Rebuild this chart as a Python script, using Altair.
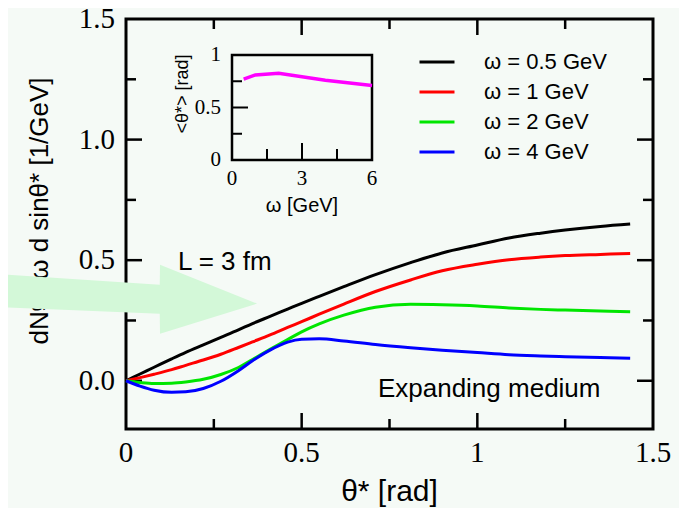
import altair as alt
import pandas as pd

# ---------------- data ----------------
theta = [0, 0.04, 0.08, 0.13, 0.17, 0.22, 0.27, 0.32, 0.36, 0.41, 0.46, 0.5, 0.55,
         0.62, 0.71, 0.81, 0.9, 1.0, 1.09, 1.18, 1.25, 1.35, 1.435]
w05 = [0, 0.028, 0.056, 0.091, 0.118, 0.149, 0.180, 0.211, 0.237, 0.267, 0.297, 0.321, 0.350,
       0.390, 0.440, 0.490, 0.530, 0.563, 0.592, 0.612, 0.625, 0.640, 0.650]
w1 = [0, 0.013, 0.027, 0.046, 0.064, 0.086, 0.110, 0.138, 0.161, 0.190, 0.221, 0.245, 0.276,
      0.318, 0.370, 0.418, 0.456, 0.483, 0.502, 0.513, 0.519, 0.524, 0.528]
w2 = [0, -0.007, -0.011, -0.010, -0.005, 0.006, 0.026, 0.055, 0.088, 0.130, 0.171, 0.203, 0.236,
      0.272, 0.305, 0.317, 0.315, 0.310, 0.302, 0.296, 0.293, 0.289, 0.286]
w4 = [0, -0.022, -0.039, -0.048, -0.046, -0.032, -0.002, 0.042, 0.083, 0.127, 0.160, 0.172, 0.174,
      0.165, 0.150, 0.137, 0.127, 0.117, 0.108, 0.103, 0.100, 0.096, 0.093]
labels = ["ω = 0.5 GeV", "ω = 1 GeV", "ω = 2 GeV", "ω = 4 GeV"]
colors = ["#000000", "#ff0000", "#00e600", "#0000ff"]

omega = [0.5, 1, 2, 4, 6]
mean_theta = [0.77, 0.81, 0.825, 0.76, 0.71]

x_domain = [0, 1.5]
y_domain = [-0.2, 1.5]
x_label_vals = [0, 0.5, 1, 1.5]
y_label_vals = [0, 0.5, 1.0, 1.5]
x_major = [0.5, 1.0]
x_minor = [0.25, 0.75, 1.25]
y_major = [0.0, 0.5, 1.0]
y_minor = [0.25, 0.75, 1.25]
x_title = "θ* [rad]"
y_title = "dNᵍ/dω d sinθ* [1/GeV]"

ix_domain = [0, 6]
iy_domain = [0, 1]
ix_label_vals = [0, 3, 6]
iy_label_vals = [0, 0.5, 1]
ix_major = [3]
ix_minor = [1.5, 4.5]
iy_major = [0.5]
iy_minor = [0.25, 0.75]
ix_title = "ω [GeV]"
iy_title = "<θ*> [rad]"

ann_text = ["L = 3 fm", "Expanding medium"]
ann_x = [0.148, 0.717]
ann_y = [0.46, -0.066]

arrow_x = [-0.36, 0.0960, 0.0968, 0.373]
arrow_top = [0.442, 0.398, 0.481, 0.320]
arrow_bot = [0.305, 0.278, 0.195, 0.320]

# ---------------- layout ----------------
W, H = 527, 410
MAJ, MIN = 16, 10
IN_L, IN_R, IN_T, IN_B = 106, 246, 36, 141
SERIF = "Liberation Serif"
SANS = "Liberation Sans"

rows = []
for lab, vals in zip(labels, [w05, w1, w2, w4]):
    for t, v in zip(theta, vals):
        rows.append({"theta": t, "val": v, "series": lab})
curve_df = pd.DataFrame(rows)

xs = alt.Scale(domain=x_domain, nice=False, zero=False)
ys = alt.Scale(domain=y_domain, nice=False, zero=False)
ixs = alt.Scale(domain=ix_domain, range=[IN_L, IN_R], nice=False, zero=False)
iys = alt.Scale(domain=iy_domain, range=[IN_B, IN_T], nice=False, zero=False)

one = pd.DataFrame({"a": [0]})

frame = alt.Chart(one).mark_rect(fillOpacity=0, stroke="black", strokeWidth=3).encode(
    x=alt.XDatum(x_domain[0], scale=xs, axis=None), x2=alt.X2Datum(x_domain[1]),
    y=alt.YDatum(y_domain[0], scale=ys, axis=None), y2=alt.Y2Datum(y_domain[1]),
)


def yticks(vals, x0, x1):
    return alt.Chart(pd.DataFrame({"v": vals})).mark_rule(color="black", strokeWidth=2.5).encode(
        y=alt.Y("v:Q", scale=ys, axis=None), x=alt.value(x0), x2=alt.value(x1))


def xticks(vals, y0, y1):
    return alt.Chart(pd.DataFrame({"v": vals})).mark_rule(color="black", strokeWidth=2.5).encode(
        x=alt.X("v:Q", scale=xs, axis=None), y=alt.value(y0), y2=alt.value(y1))


ticks = [
    yticks(y_major, 0, MAJ), yticks(y_minor, 0, MIN),
    yticks(y_major, W - MAJ, W), yticks(y_minor, W - MIN, W),
    xticks(x_major, H, H - MAJ), xticks(x_minor, H, H - MIN),
    xticks(x_major, 0, MAJ), xticks(x_minor, 0, MIN),
]

xlab = alt.Chart(pd.DataFrame({"v": x_label_vals})).mark_text(
    align="center", baseline="top", font=SERIF, fontSize=29, color="black").encode(
    x=alt.X("v:Q", scale=xs, axis=None), y=alt.value(H + 10),
    text=alt.Text("v:Q", format="~g"))
ylab = alt.Chart(pd.DataFrame({"v": y_label_vals})).mark_text(
    align="right", baseline="middle", font=SERIF, fontSize=29, color="black").encode(
    y=alt.Y("v:Q", scale=ys, axis=None), x=alt.value(-11),
    text=alt.Text("v:Q", format=".1f"))
xtitle = alt.Chart(one).mark_text(
    align="center", baseline="alphabetic", font=SANS, fontSize=30, color="black",
    text=x_title).encode(x=alt.value(W / 2), y=alt.value(H + 72))
ytitle = alt.Chart(one).mark_text(
    align="center", baseline="alphabetic", font=SANS, fontSize=26, color="black",
    angle=270, text=y_title).encode(x=alt.value(-78), y=alt.value(192))

curves = alt.Chart(curve_df).mark_line(strokeWidth=3, interpolate="monotone").encode(
    x=alt.X("theta:Q", scale=xs, axis=None),
    y=alt.Y("val:Q", scale=ys, axis=None),
    color=alt.Color("series:N", scale=alt.Scale(domain=labels, range=colors),
                    legend=alt.Legend(orient="none", legendX=300, legendY=32, title=None,
                                      symbolType="M-2,0H2", symbolSize=306,
                                      symbolStrokeWidth=3, labelFont=SANS, labelFontSize=22,
                                      labelColor="black", labelOffset=36, rowPadding=8,
                                      padding=0, labelLimit=400)),
)

ann = alt.Chart(pd.DataFrame({"t": ann_text, "x": ann_x, "y": ann_y})).mark_text(
    align="left", baseline="alphabetic", font=SANS, fontSize=26, color="black").encode(
    x=alt.X("x:Q", scale=xs, axis=None), y=alt.Y("y:Q", scale=ys, axis=None), text="t:N")

arrow = alt.Chart(pd.DataFrame({"x": arrow_x, "ytop": arrow_top, "ybot": arrow_bot})).mark_area(
    color="#d3f8d8", opacity=1).encode(
    x=alt.X("x:Q", scale=xs, axis=None), y=alt.Y("ytop:Q", scale=ys, axis=None),
    y2="ybot:Q")

main = alt.layer(frame, *ticks, xlab, ylab, xtitle, ytitle, curves, ann, arrow)

# ---------------- inset ----------------
iframe = alt.Chart(one).mark_rect(fillOpacity=0, stroke="black", strokeWidth=2.5).encode(
    x=alt.XDatum(ix_domain[0], scale=ixs, axis=None), x2=alt.X2Datum(ix_domain[1]),
    y=alt.YDatum(iy_domain[0], scale=iys, axis=None), y2=alt.Y2Datum(iy_domain[1]),
)


def iyticks(vals, ln):
    return alt.Chart(pd.DataFrame({"v": vals})).mark_rule(color="black", strokeWidth=2).encode(
        y=alt.Y("v:Q", scale=iys, axis=None), x=alt.value(IN_L), x2=alt.value(IN_L + ln))


def ixticks(vals, ln):
    return alt.Chart(pd.DataFrame({"v": vals})).mark_rule(color="black", strokeWidth=2).encode(
        x=alt.X("v:Q", scale=ixs, axis=None), y=alt.value(IN_B), y2=alt.value(IN_B - ln))


iticks = [iyticks(iy_major, 16), iyticks(iy_minor, 10), ixticks(ix_major, 17), ixticks(ix_minor, 11)]

ixlab = alt.Chart(pd.DataFrame({"v": ix_label_vals})).mark_text(
    align="center", baseline="top", font=SERIF, fontSize=21, color="black").encode(
    x=alt.X("v:Q", scale=ixs, axis=None), y=alt.value(IN_B + 8),
    text=alt.Text("v:Q", format="~g"))
iylab = alt.Chart(pd.DataFrame({"v": iy_label_vals})).mark_text(
    align="right", baseline="middle", font=SERIF, fontSize=21, color="black").encode(
    y=alt.Y("v:Q", scale=iys, axis=None), x=alt.value(IN_L - 11),
    text=alt.Text("v:Q", format="~g"))
ixtitle = alt.Chart(one).mark_text(
    align="center", baseline="alphabetic", font=SANS, fontSize=20, color="black",
    text=ix_title).encode(x=alt.value((IN_L + IN_R) / 2), y=alt.value(IN_B + 52))
iytitle = alt.Chart(one).mark_text(
    align="center", baseline="alphabetic", font=SANS, fontSize=18, color="black",
    angle=270, text=iy_title).encode(x=alt.value(IN_L - 44), y=alt.value(75))

iline = alt.Chart(pd.DataFrame({"omega": omega, "m": mean_theta})).mark_line(
    color="#ff00ff", strokeWidth=3.5).encode(
    x=alt.X("omega:Q", scale=ixs, axis=None),
    y=alt.Y("m:Q", scale=iys, axis=None),
)

inset = alt.layer(iframe, *iticks, ixlab, iylab, ixtitle, iytitle, iline)

chart = alt.layer(main, inset).resolve_scale(x="independent", y="independent").properties(
    width=W, height=H,
    padding={"left": 118, "top": 11, "right": 26, "bottom": 79},
    autosize=alt.AutoSizeParams(type="none"),
    background="#f5faf6",
).configure_view(stroke=None)

chart.save("out.html", embed_options={"renderer": "svg", "actions": False})
